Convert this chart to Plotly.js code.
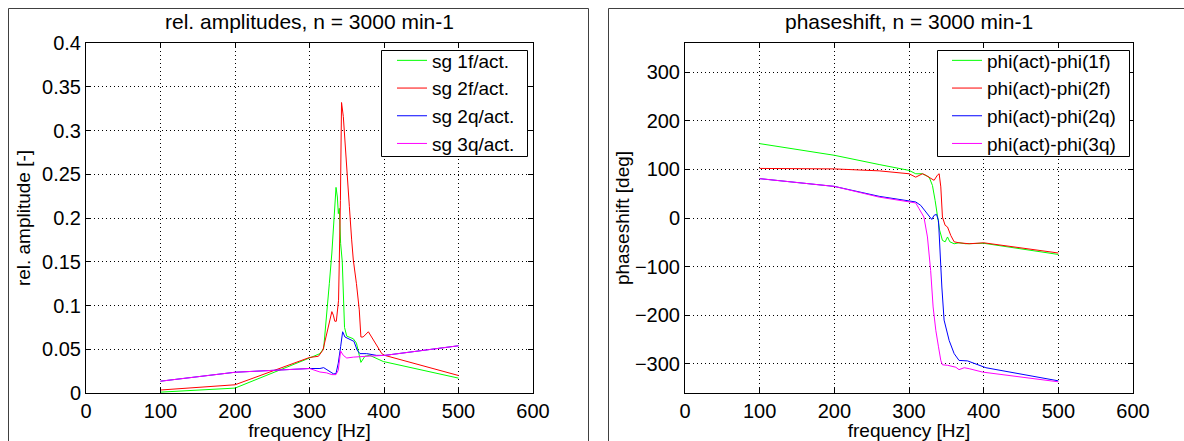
<!DOCTYPE html>
<html>
<head>
<meta charset="utf-8">
<script src="https://cdn.plot.ly/plotly-3.0.1.min.js"></script>
<style>
  html, body { margin: 0; padding: 0; background: #fff; }
  #chart { width: 1184px; height: 441px; }
</style>
</head>
<body>
<div id="chart"></div>
<script>
// ---------- Left plot: relative amplitudes ----------
const ampTitle = "rel. amplitudes, n = 3000 min-1";
const ampNames = ["sg 1f/act.", "sg 2f/act.", "sg 2q/act.", "sg 3q/act."];

const amp1fX = [100, 200, 300, 314, 319, 323, 326.6, 330, 332, 334.2, 335.6, 337.4, 338.7, 340, 341.8, 344, 345.5, 347, 350, 358.8, 363, 366.8, 369, 374.4, 381, 399, 500];
const amp1fY = [0.001, 0.0056, 0.040, 0.045, 0.051, 0.087, 0.125, 0.160, 0.186, 0.220, 0.235, 0.224, 0.205, 0.211, 0.171, 0.150, 0.100, 0.075, 0.065, 0.062, 0.057, 0.042, 0.035, 0.042, 0.043, 0.036, 0.017];

const amp2fX = [100, 200, 300, 312, 318, 323, 327, 330, 332, 334, 336, 339, 341.5, 343, 345.4, 350, 353.5, 356.6, 358.8, 363, 366.8, 369, 372, 379, 385.6, 397, 401, 500];
const amp2fY = [0.0034, 0.0094, 0.0406, 0.042, 0.049, 0.068, 0.082, 0.093, 0.089, 0.082, 0.082, 0.106, 0.220, 0.332, 0.316, 0.251, 0.213, 0.175, 0.152, 0.125, 0.095, 0.064, 0.064, 0.070, 0.061, 0.045, 0.043, 0.020];

const amp2qX = [100, 200, 300, 314, 319, 325, 332, 335.5, 338.6, 341.8, 344.5, 347.6, 354.3, 359.7, 364, 367.7, 376.7, 390, 401, 500];
const amp2qY = [0.0135, 0.0237, 0.028, 0.028, 0.029, 0.026, 0.022, 0.022, 0.034, 0.053, 0.070, 0.064, 0.061, 0.059, 0.049, 0.045, 0.045, 0.043, 0.043, 0.054];

const amp3qX = [100, 200, 300, 314, 323, 330, 335.5, 338.6, 341.8, 345.4, 350, 358.8, 376.7, 401, 500];
const amp3qY = [0.0135, 0.0237, 0.028, 0.024, 0.023, 0.021, 0.021, 0.026, 0.048, 0.043, 0.040, 0.041, 0.042, 0.043, 0.054];

// ---------- Right plot: phaseshift ----------
const phTitle = "phaseshift, n = 3000 min-1";
const phNames = ["phi(act)-phi(1f)", "phi(act)-phi(2f)", "phi(act)-phi(2q)", "phi(act)-phi(3q)"];

const ph1fX = [100, 200, 260, 300, 309, 318, 327, 331.4, 335, 338, 341, 344.8, 348.4, 351.6, 354.7, 360.5, 367, 376, 400, 500];
const ph1fY = [153, 129, 110, 98, 91, 91, 84, 67, 36, 2, -25, -46, -49, -39, -49, -53, -51, -53, -52, -75];

const ph2fX = [100, 200, 260, 300, 309, 313.5, 318, 322.4, 329, 333.6, 338, 340.4, 342.6, 344.8, 348.4, 351.6, 356, 360.5, 367, 380.7, 400, 500];
const ph2fY = [102, 101, 97, 91, 84, 88, 91, 88, 81, 77.5, 88, 91, 64, 2, -15, -18.5, -36, -49, -51, -53, -51, -72];

const ph2qX = [100, 200, 260, 300, 309, 315.7, 322.4, 327, 330.5, 333.6, 336.8, 339.5, 341.3, 344, 347, 353.8, 360.5, 367, 378.5, 394, 403, 500];
const ph2qY = [81, 65, 44.6, 34, 33, 26, 12, 2, -3, 5.5, 7.5, -5, -73, -142, -210, -252, -279, -293, -294, -303, -308, -335];

const ph3qX = [100, 200, 260, 300, 309, 313.5, 320, 324.7, 329, 332.3, 335.9, 339.5, 342.6, 344.8, 351.6, 362.8, 367, 374, 380.7, 398.6, 500];
const ph3qY = [81, 65, 43, 34, 31, 19, 2, -39, -108, -183, -231, -265, -293, -302, -303, -307, -312, -308, -310, -317, -337];

// ---------- Axis labels ----------
const xLabel = "frequency [Hz]";
const yLabelAmp = "rel. amplitude [-]";
const yLabelPh = "phaseshift [deg]";

const colors = ["#00ff00", "#ff0000", "#0000ff", "#ff00ff"];
const FONT = "Liberation Sans, Arial, Helvetica, sans-serif";
const TICK_SIZE = 20, LABEL_SIZE = 19, TITLE_SIZE = 21, LEG_SIZE = 19;

function tr(x, y, name, i, xa, ya, leg) {
  return { x: x, y: y, name: name, type: "scatter", mode: "lines",
    line: { color: colors[i], width: 1 }, xaxis: xa, yaxis: ya, legend: leg };
}

const data = [
  tr(amp1fX, amp1fY, ampNames[0], 0, "x", "y", "legend"),
  tr(amp2fX, amp2fY, ampNames[1], 1, "x", "y", "legend"),
  tr(amp2qX, amp2qY, ampNames[2], 2, "x", "y", "legend"),
  tr(amp3qX, amp3qY, ampNames[3], 3, "x", "y", "legend"),
  tr(ph1fX, ph1fY, phNames[0], 0, "x2", "y2", "legend2"),
  tr(ph2fX, ph2fY, phNames[1], 1, "x2", "y2", "legend2"),
  tr(ph2qX, ph2qY, phNames[2], 2, "x2", "y2", "legend2"),
  tr(ph3qX, ph3qY, phNames[3], 3, "x2", "y2", "legend2")
];

const W = 1184, H = 441;
const mL = 86, mR = 51, mT = 43, mB = 48;
const pw = W - mL - mR, ph = H - mT - mB;
const px = v => (v - mL) / pw;     // pixel -> paper x
const py = v => (H - mB - v) / ph; // pixel -> paper y

function axis(extra) {
  return Object.assign({
    showline: true, mirror: "ticks", linecolor: "#000", linewidth: 1,
    ticks: "inside", ticklen: 5, tickcolor: "#000", tickwidth: 1,
    showgrid: true, gridcolor: "#000", gridwidth: 1, griddash: "1px,3px",
    zeroline: false, automargin: false,
    tickfont: { family: FONT, size: TICK_SIZE, color: "#000" }
  }, extra);
}

function legendBox(left, right) {
  return { type: "rect", xref: "paper", yref: "paper",
    x0: px(left), x1: px(right), y0: py(156.5), y1: py(50.5),
    line: { color: "#000", width: 1 }, fillcolor: "#fff", layer: "above" };
}

const legFont = { family: FONT, size: LEG_SIZE, color: "#000" };

const layout = {
  width: W, height: H,
  margin: { l: mL, r: mR, t: mT, b: mB, pad: 0 },
  paper_bgcolor: "#fff", plot_bgcolor: "#fff",
  font: { family: FONT, size: TICK_SIZE, color: "#000" },
  xaxis: axis({ domain: [0, px(533)], range: [0, 600], dtick: 100, tick0: 0, anchor: "y",
    title: { text: xLabel, font: { family: FONT, size: LABEL_SIZE }, standoff: 7 } }),
  yaxis: axis({ domain: [0, 1], range: [0, 0.4], dtick: 0.05, tick0: 0, anchor: "x",
    title: { text: yLabelAmp, font: { family: FONT, size: LABEL_SIZE }, standoff: 6 } }),
  xaxis2: axis({ domain: [px(685), 1], range: [0, 600], dtick: 100, tick0: 0, anchor: "y2",
    title: { text: xLabel, font: { family: FONT, size: LABEL_SIZE }, standoff: 7 } }),
  yaxis2: axis({ domain: [0, 1], range: [-360, 360], dtick: 100, tick0: 0, anchor: "x2",
    title: { text: yLabelPh, font: { family: FONT, size: LABEL_SIZE }, standoff: 0 } }),
  legend: {
    x: px(392), xanchor: "left", y: py(41.5), yanchor: "top",
    bgcolor: "rgba(0,0,0,0)", borderwidth: 0, font: legFont, tracegroupgap: 0
  },
  legend2: {
    x: px(947), xanchor: "left", y: py(41.5), yanchor: "top",
    bgcolor: "rgba(0,0,0,0)", borderwidth: 0, font: legFont, tracegroupgap: 0
  },
  annotations: [
    { text: ampTitle, xref: "paper", yref: "paper", x: px(309.5), y: py(22),
      xanchor: "center", yanchor: "middle", showarrow: false, font: { family: FONT, size: TITLE_SIZE, color: "#000" } },
    { text: phTitle, xref: "paper", yref: "paper", x: px(909), y: py(22),
      xanchor: "center", yanchor: "middle", showarrow: false, font: { family: FONT, size: TITLE_SIZE, color: "#000" } }
  ],
  shapes: [
    { type: "rect", xref: "paper", yref: "paper", x0: px(8.5), x1: px(588.5), y0: py(460), y1: py(8.5),
      line: { color: "#404040", width: 1 }, layer: "below" },
    { type: "rect", xref: "paper", yref: "paper", x0: px(608.5), x1: px(1200), y0: py(460), y1: py(8.5),
      line: { color: "#404040", width: 1 }, layer: "below" },
    legendBox(381.5, 527.5),
    legendBox(937.5, 1129.5)
  ],
  showlegend: true
};

Plotly.newPlot("chart", data, layout, { displayModeBar: false, staticPlot: true });
</script>
</body>
</html>
